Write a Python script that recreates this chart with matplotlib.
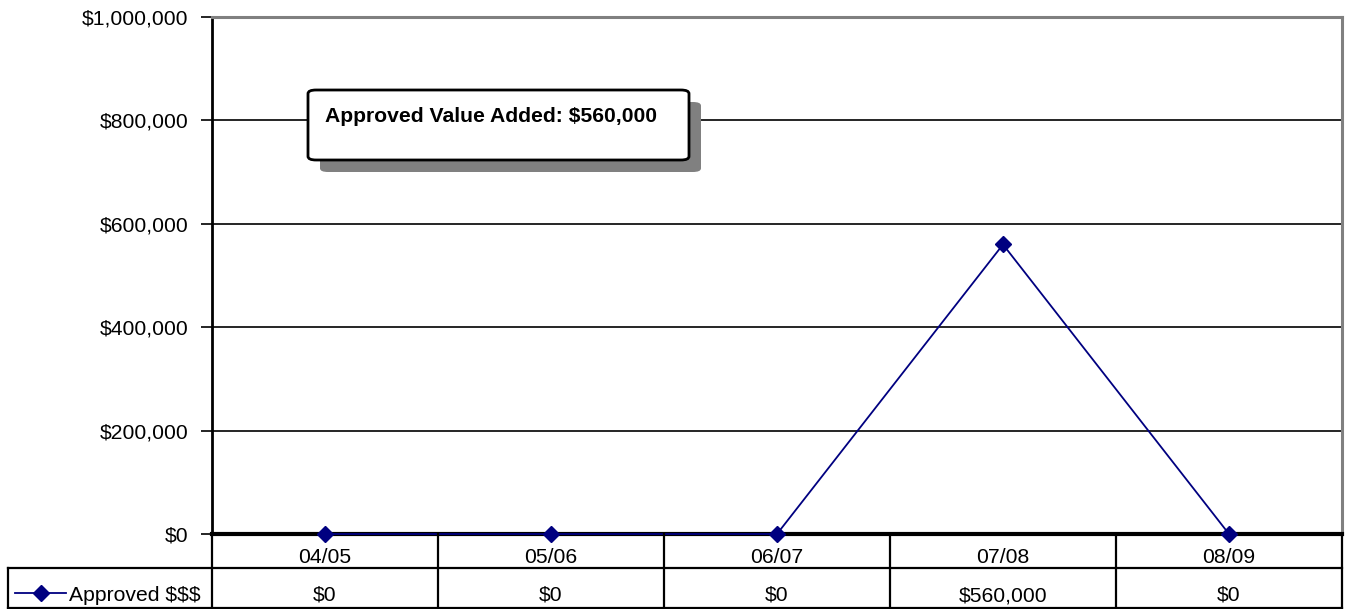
import matplotlib.pyplot as plt
from matplotlib.patches import FancyBboxPatch
from matplotlib.lines import Line2D
from matplotlib.ticker import FuncFormatter

plt.rcParams['font.family'] = ['Liberation Sans', 'DejaVu Sans']

years = ['04/05', '05/06', '06/07', '07/08', '08/09']
approved = [0, 0, 0, 560000, 0]
series_name = 'Approved $$$'
total_added = sum(approved)

W, H = 1349, 609
FS = 15.2
fig = plt.figure(figsize=(W / 100, H / 100), dpi=100)

# plot area in pixel terms
left, right, top, bottom = 212, 1342, 17, 534
ax = fig.add_axes([left / W, 1 - bottom / H, (right - left) / W, (bottom - top) / H])

x = list(range(len(years)))
ax.plot(x, approved, color='#000080', lw=1.3, marker='D', ms=8, zorder=5, clip_on=False)

ax.set_xlim(-0.5, len(years) - 0.5)
ax.set_ylim(0, 1000000)
ax.set_yticks(range(0, 1000001, 200000))
ax.yaxis.set_major_formatter(FuncFormatter(lambda v, p: f'${v:,.0f}'))
ax.tick_params(axis='y', length=8, width=1.2, color='black', labelsize=FS, pad=9)
ax.set_xticks([])

for v in range(200000, 1000000, 200000):
    ax.axhline(v, color='black', lw=1.2, zorder=1)

for side in ['top', 'right']:
    ax.spines[side].set_color('#808080')
    ax.spines[side].set_linewidth(2.2)
ax.spines['left'].set_linewidth(2)
ax.spines['bottom'].set_linewidth(3)

# data table under the axis
def px(xp, yp):
    return xp / W, 1 - yp / H

row1, row2, row3 = 534, 568, 608
col_edges = [left + i * (right - left) / len(years) for i in range(len(years) + 1)]
lines = []
for xe in col_edges:
    lines.append(([xe, xe], [row1, row3]))
lines.append(([8, right], [row2, row2]))
lines.append(([8, 8], [row2, row3]))
lines.append(([8, right], [row3, row3]))
for xs, ys in lines:
    fig.add_artist(Line2D([xs[0] / W, xs[1] / W], [1 - ys[0] / H, 1 - ys[1] / H],
                          color='black', lw=1.6, transform=fig.transFigure))

for i, (yr, val) in enumerate(zip(years, approved)):
    cx = (col_edges[i] + col_edges[i + 1]) / 2
    fig.text(*px(cx, 563), yr, ha='center', va='baseline', fontsize=FS)
    fig.text(*px(cx, 601), f'${val:,.0f}', ha='center', va='baseline', fontsize=FS)

# legend key inside the table
ky = 593
fig.add_artist(Line2D([15 / W, 66 / W], [1 - ky / H, 1 - ky / H], color='#000080', lw=1.3,
                      transform=fig.transFigure))
fig.add_artist(Line2D([41 / W], [1 - ky / H], color='#000080', marker='D', ms=8, lw=0,
                      transform=fig.transFigure))
fig.text(*px(69, 601), series_name, ha='left', va='baseline', fontsize=FS)

# callout box with shadow
bx0, by0, bx1, by1 = 308, 90, 689, 160
for dx, fc in [(12, '#808080'), (0, 'white')]:
    fig.add_artist(FancyBboxPatch(px(bx0 + dx, by1 + dx), (bx1 - bx0) / W, (by1 - by0) / H,
                                  boxstyle='round,pad=0,rounding_size=0.006',
                                  transform=fig.transFigure, fc=fc,
                                  ec='black' if fc == 'white' else 'none', lw=2, zorder=10))
fig.text(*px(325, 122), f'Approved Value Added: ${total_added:,.0f}', ha='left', va='baseline',
         fontsize=15.2, fontweight='bold', zorder=11)

fig.savefig('out.png', dpi=100)
